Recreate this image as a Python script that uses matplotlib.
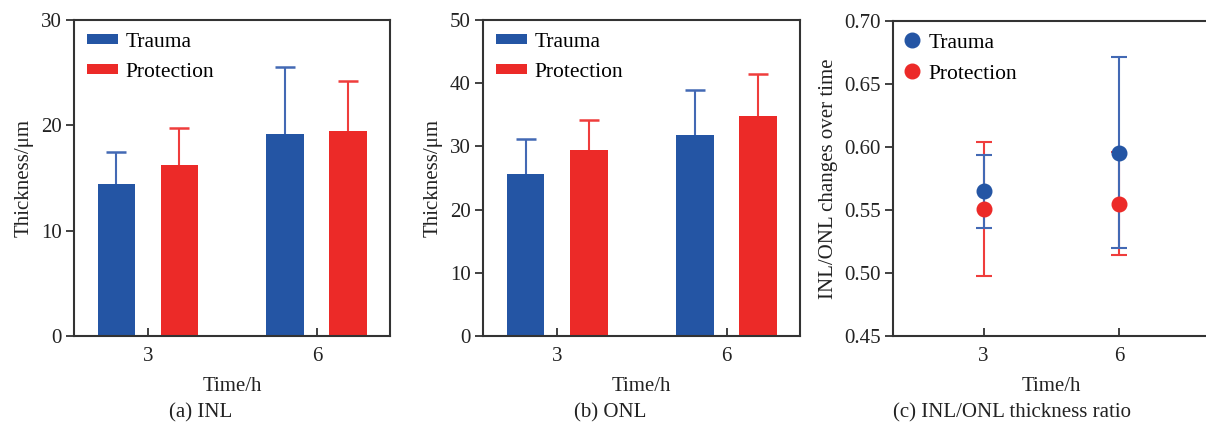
import numpy as np
import matplotlib
matplotlib.use("Agg")
import matplotlib.pyplot as plt

plt.rcParams['font.family'] = ['Liberation Serif', 'DejaVu Serif']

times = [3, 6]
groups = ["Trauma", "Protection"]

# INL thickness (um): mean and upper SD
inl_trauma = [14.4, 19.2]
inl_trauma_sd = [3.1, 6.3]
inl_protect = [16.2, 19.5]
inl_protect_sd = [3.5, 4.7]

# ONL thickness (um)
onl_trauma = [25.6, 31.8]
onl_trauma_sd = [5.6, 7.2]
onl_protect = [29.4, 34.8]
onl_protect_sd = [4.7, 6.7]

# INL/ONL ratio
ratio_trauma = [0.565, 0.5955]
ratio_trauma_sd = [0.029, 0.076]
ratio_protect = [0.551, 0.555]
ratio_protect_sd = [0.053, 0.041]

blue = "#2455a4"
red = "#ec2a28"
blue_err = "#4369b4"
red_err = "#ef3d3c"
dark = "#222222"

W, H = 1206, 425
fig = plt.figure(figsize=(W / 100, H / 100), dpi=100)


def axes_px(left, top, right, bottom):
    return fig.add_axes([left / W, 1 - bottom / H, (right - left) / W, (bottom - top) / H])


def style(ax):
    for s in ax.spines.values():
        s.set_linewidth(1.5)
        s.set_color("#333333")
    ax.tick_params(axis="y", direction="out", length=6, width=1.3, labelsize=15,
                   colors="#333333", labelcolor=dark, pad=3)
    ax.tick_params(axis="x", direction="in", length=6, width=1.3, labelsize=15,
                   colors="#333333", labelcolor=dark, pad=8)
    ax.set_xlabel("Time/h", fontsize=15, color=dark, labelpad=7.5)


def upper_err(ax, x, y, sd, color):
    # one-sided error bar: only the top cap is kept
    _, caps, _ = ax.errorbar(x, y, yerr=[np.zeros(len(y)), sd], fmt="none", ecolor=color,
                             elinewidth=1.5, capsize=7.5, capthick=1.8, zorder=1)
    caps[0].set_visible(False)


def bar_panel(ax, tr, tr_sd, pr, pr_sd, ymax, ystep):
    x = np.array(times, dtype=float)
    off, w = 0.56, 0.67
    ax.bar(x - off, tr, w, color=blue, label=groups[0], zorder=2)
    ax.bar(x + off, pr, w, color=red, label=groups[1], zorder=2)
    upper_err(ax, x - off, tr, tr_sd, blue_err)
    upper_err(ax, x + off, pr, pr_sd, red_err)
    ax.set_xlim(1.686, 7.3)
    ax.set_ylim(0, ymax)
    ax.set_xticks(times)
    ax.set_yticks(np.arange(0, ymax + 0.1, ystep))
    ax.set_ylabel("Thickness/μm", fontsize=15, color=dark, labelpad=5)
    style(ax)
    ax.legend(loc="upper left", bbox_to_anchor=(0.0, 1.0), frameon=False, fontsize=15.5,
              handlelength=1.45, handleheight=0.35, handletextpad=0.35,
              labelspacing=0.5, borderaxespad=0.2)


ax1 = axes_px(74, 20, 390, 336)
bar_panel(ax1, inl_trauma, inl_trauma_sd, inl_protect, inl_protect_sd, 30, 10)

ax2 = axes_px(483, 20, 800, 336)
bar_panel(ax2, onl_trauma, onl_trauma_sd, onl_protect, onl_protect_sd, 50, 10)

ax3 = axes_px(893, 21, 1210, 336)
ax3.errorbar(times, ratio_protect, yerr=ratio_protect_sd, fmt="none", ecolor=red_err,
             elinewidth=1.5, capsize=5.5, capthick=1.5, zorder=1)
ax3.errorbar(times, ratio_trauma, yerr=ratio_trauma_sd, fmt="none", ecolor=blue_err,
             elinewidth=1.5, capsize=5.5, capthick=1.5, zorder=2)
ax3.plot(times, ratio_trauma, "o", color=blue, ms=10.5, ls="none", label=groups[0], zorder=3)
ax3.plot(times, ratio_protect, "o", color=red, ms=10.5, ls="none", label=groups[1], zorder=3)
ax3.set_xlim(1, 8)
ax3.set_ylim(0.45, 0.70)
ax3.set_xticks(times)
ax3.set_yticks(np.arange(0.45, 0.701, 0.05))
ax3.set_yticklabels([f"{v:.2f}" for v in np.arange(0.45, 0.701, 0.05)])
ax3.set_ylabel("INL/ONL changes over time", fontsize=15, color=dark, labelpad=4)
style(ax3)
ax3.legend(loc="upper left", bbox_to_anchor=(0.0, 1.0), frameon=False, fontsize=15.5,
           handlelength=0.7, handletextpad=0.4, labelspacing=0.5, borderaxespad=0.25,
           borderpad=0.3)

fig.text(201 / W, 1 - 413 / H, "(a) INL", ha="center", va="center", fontsize=15, color=dark)
fig.text(610 / W, 1 - 413 / H, "(b) ONL", ha="center", va="center", fontsize=15, color=dark)
fig.text(1012 / W, 1 - 413 / H, "(c) INL/ONL thickness ratio", ha="center", va="center",
         fontsize=15, color=dark)

fig.savefig("out.png", dpi=100)
